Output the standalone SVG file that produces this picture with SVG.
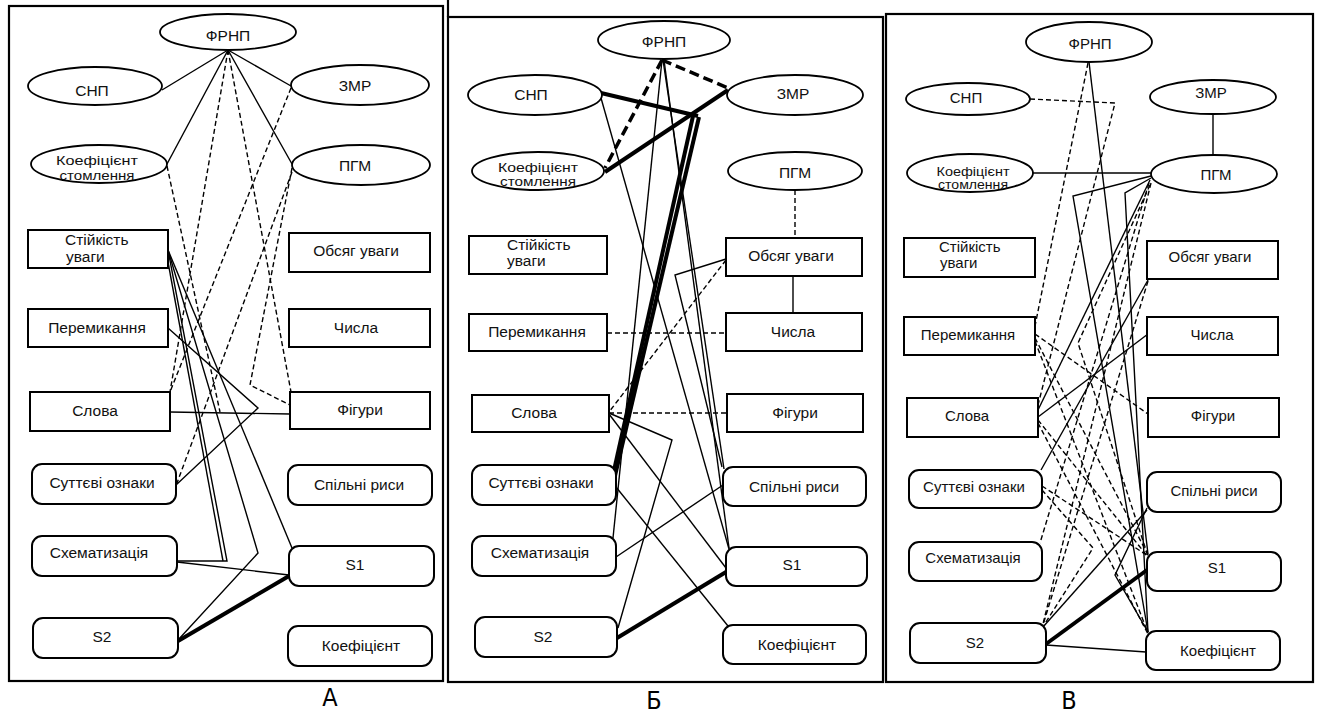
<svg xmlns="http://www.w3.org/2000/svg" width="1317" height="713" viewBox="0 0 1317 713">
<style>
.fr{fill:none;stroke:#000;stroke-width:2.2}
.e{fill:#fff;stroke:#000;stroke-width:1.8}
.b{fill:#fff;stroke:#000;stroke-width:2}
.s{fill:none;stroke:#000;stroke-width:1.4}
.d{fill:none;stroke:#000;stroke-width:1.4;stroke-dasharray:5 3}
.t{fill:none;stroke:#000;stroke-width:4}
.td{fill:none;stroke:#000;stroke-width:3.5;stroke-dasharray:10 5}
text{font-family:"Liberation Sans",Arial,sans-serif;font-size:15.5px;fill:#111;text-anchor:middle}
.sm{font-size:12px}
.lft{text-anchor:start}
.v{font-size:15px}
.lab{font-family:"DejaVu Sans Condensed","DejaVu Sans",sans-serif;font-stretch:condensed;font-size:25px;fill:#000}
</style>
<rect width="1317" height="713" fill="#fff"/>
<g id="frames">
<rect class="fr" x="9" y="6" width="434" height="675"/>
<rect class="fr" x="448" y="17" width="435" height="665"/>
<line class="fr" x1="448" y1="0" x2="448" y2="17"/>
<rect class="fr" x="886" y="14" width="427" height="668"/>
</g>
<g id="connectors">
<!-- Panel A -->
<path class="s" d="M228,50 L162,90"/>
<path class="s" d="M228,50 L167,164"/>
<path class="s" d="M228,50 L291,86"/>
<path class="s" d="M228,50 L292,164"/>
<path class="d" d="M167,166 L220,412"/>
<path class="d" d="M228,50 L170,392"/>
<path class="d" d="M291,88 L170,392"/>
<path class="d" d="M228,50 L291,392"/>
<path class="d" d="M292,168 L250,385 L290,405"/>
<path class="d" d="M292,172 L177,483"/>
<path class="s" d="M168,250 L227,561 L177,561"/>
<path class="s" d="M168,262 L223,561"/>
<path class="s" d="M168,250 L258,553 L178,640"/>
<path class="s" d="M168,250 L292,548"/>
<path class="s" d="M168,328 L258,408 L176,485"/>
<path class="s" d="M170,412 L290,414"/>
<path class="s" d="M177,562 L289,575"/>
<path class="t" d="M178,641 L289,576"/>
<!-- Panel B -->
<path class="td" d="M662,60 L605,168"/>
<path class="td" d="M662,60 L728,88"/>
<path class="t" d="M601,93 L698,116"/>
<path class="t" d="M728,90 L605,172"/>
<path class="t" d="M699,117 L614,480"/>
<path class="t" d="M693,116 L611,484"/>
<path class="t" d="M617,638 L726,572"/>
<path class="s" d="M601,98 L729,549"/>
<path class="s" d="M662,60 L613,538"/>
<path class="s" d="M663,60 L724,469"/>
<path class="s" d="M664,60 L729,548"/>
<path class="s" d="M726,259 L675,275 L722,467"/>
<path class="s" d="M609,413 L672,440 L618,628"/>
<path class="s" d="M609,414 L726,568"/>
<path class="s" d="M616,487 L728,626"/>
<path class="s" d="M616,557 L723,485"/>
<path class="s" d="M793,276 L793,313"/>
<path class="d" d="M607,333 L726,333"/>
<path class="d" d="M609,413 L727,413"/>
<path class="d" d="M726,260 L609,412"/>
<path class="d" d="M795,190 L795,238"/>
<!-- Panel V -->
<path class="s" d="M1151,173 L1033,173"/>
<path class="s" d="M1213,114 L1213,155"/>
<path class="s" d="M1089,62 L1148,554"/>
<path class="s" d="M1151,176 L1073,196 L1148,632"/>
<path class="s" d="M1151,178 L1125,193 L1148,632"/>
<path class="s" d="M1150,180 L1038,410"/>
<path class="s" d="M1148,280 L1041,470"/>
<path class="s" d="M1038,417 L1148,334"/>
<path class="s" d="M1046,645 L1146,652"/>
<path class="s" d="M1043,627 L1147,510"/>
<path class="s" d="M1147,508 L1115,575 L1148,632"/>
<path class="t" d="M1046,644 L1147,570"/>
<path class="d" d="M1088,63 L1035,326"/>
<path class="d" d="M1030,99 L1115,103 L1038,405"/>
<path class="d" d="M1035,334 L1148,414"/>
<path class="d" d="M1035,338 L1148,555"/>
<path class="d" d="M1035,341 L1148,633"/>
<path class="d" d="M1038,420 L1148,557"/>
<path class="d" d="M1038,423 L1148,634"/>
<path class="d" d="M1149,183 L1040,543"/>
<path class="d" d="M1150,185 L1078,343 L1148,556"/>
<path class="d" d="M1148,281 L1043,625"/>
<path class="d" d="M1151,183 L1043,624"/>
<path class="d" d="M1042,486 L1148,556"/>
<path class="d" d="M1042,490 L1093,548 L1044,625"/>
</g>
<!-- Panel A nodes -->
<g id="a-frnp"><ellipse class="e" cx="228" cy="32" rx="68" ry="18"/><text x="228" y="41">ФРНП</text></g>
<g id="a-snp"><ellipse class="e" cx="95" cy="86" rx="67" ry="19"/><text x="92" y="96">СНП</text></g>
<g id="a-zmr"><ellipse class="e" cx="360" cy="85" rx="69" ry="20"/><text x="355" y="91">ЗМР</text></g>
<g id="a-koef-st"><ellipse class="e" cx="99" cy="164" rx="68" ry="19"/><text class="sm" x="97" y="165" textLength="82" lengthAdjust="spacingAndGlyphs">Коефіцієнт</text><text class="sm" x="97" y="180" textLength="75" lengthAdjust="spacingAndGlyphs">стомлення</text></g>
<g id="a-pgm"><ellipse class="e" cx="361" cy="165" rx="69" ry="20"/><text x="355" y="171">ПГМ</text></g>
<g id="a-stiik"><rect class="b" x="28" y="230" width="140" height="38"/><text class="lft" x="65" y="245">Стійкість</text><text class="lft" x="66" y="262">уваги</text></g>
<g id="a-obsiag"><rect class="b" x="289" y="233" width="141" height="39"/><text x="356" y="256">Обсяг уваги</text></g>
<g id="a-peremyk"><rect class="b" x="28" y="309" width="140" height="38"/><text x="97" y="333">Перемикання</text></g>
<g id="a-chysla"><rect class="b" x="289" y="309" width="141" height="38"/><text x="356" y="333">Числа</text></g>
<g id="a-slova"><rect class="b" x="30" y="392" width="140" height="39"/><text x="95" y="416">Слова</text></g>
<g id="a-fihury"><rect class="b" x="290" y="392" width="140" height="37"/><text x="360" y="415">Фігури</text></g>
<g id="a-sutt"><rect class="b" x="32" y="464" width="144" height="40" rx="10"/><text x="102" y="488">Суттєві ознаки</text></g>
<g id="a-spiln"><rect class="b" x="288" y="465" width="144" height="40" rx="10"/><text x="359" y="490">Спільні риси</text></g>
<g id="a-skhem"><rect class="b" x="32" y="536" width="145" height="40" rx="10"/><text x="99" y="558">Схематизація</text></g>
<g id="a-s1"><rect class="b" x="289" y="546" width="145" height="40" rx="10"/><text x="355" y="570">S1</text></g>
<g id="a-s2"><rect class="b" x="33" y="618" width="145" height="40" rx="10"/><text x="102" y="642">S2</text></g>
<g id="a-koef"><rect class="b" x="288" y="626" width="144" height="40" rx="10"/><text x="361" y="651">Коефіцієнт</text></g>
<!-- Panel B nodes -->
<g id="b-frnp"><ellipse class="e" cx="664" cy="40" rx="66" ry="19"/><text x="664" y="47">ФРНП</text></g>
<g id="b-snp"><ellipse class="e" cx="535" cy="95" rx="67" ry="20"/><text x="531" y="100">СНП</text></g>
<g id="b-zmr"><ellipse class="e" cx="795" cy="95" rx="68" ry="20"/><text x="793" y="99">ЗМР</text></g>
<g id="b-koef-st"><ellipse class="e" cx="538" cy="171" rx="66" ry="19"/><text class="sm" x="538" y="172" textLength="80" lengthAdjust="spacingAndGlyphs">Коефіцієнт</text><text class="sm" x="538" y="186" textLength="76" lengthAdjust="spacingAndGlyphs">стомлення</text></g>
<g id="b-pgm"><ellipse class="e" cx="795" cy="171" rx="67" ry="19"/><text x="795" y="178">ПГМ</text></g>
<g id="b-stiik"><rect class="b" x="469" y="236" width="138" height="38"/><text class="lft" x="507" y="250">Стійкість</text><text class="lft" x="507" y="266">уваги</text></g>
<g id="b-obsiag"><rect class="b" x="726" y="238" width="136" height="38"/><text x="791" y="261">Обсяг уваги</text></g>
<g id="b-peremyk"><rect class="b" x="469" y="314" width="138" height="37"/><text x="537" y="337">Перемикання</text></g>
<g id="b-chysla"><rect class="b" x="726" y="313" width="136" height="38"/><text x="793" y="337">Числа</text></g>
<g id="b-slova"><rect class="b" x="472" y="395" width="137" height="37"/><text x="534" y="418">Слова</text></g>
<g id="b-fihury"><rect class="b" x="727" y="394" width="136" height="38"/><text x="795" y="418">Фігури</text></g>
<g id="b-sutt"><rect class="b" x="472" y="465" width="144" height="40" rx="10"/><text x="541" y="488">Суттєві ознаки</text></g>
<g id="b-spiln"><rect class="b" x="723" y="467" width="143" height="39" rx="10"/><text x="794" y="492">Спільні риси</text></g>
<g id="b-skhem"><rect class="b" x="472" y="536" width="144" height="40" rx="10"/><text x="540" y="558">Схематизація</text></g>
<g id="b-s1"><rect class="b" x="726" y="547" width="141" height="39" rx="10"/><text x="792" y="570">S1</text></g>
<g id="b-s2"><rect class="b" x="475" y="617" width="142" height="40" rx="10"/><text x="543" y="642">S2</text></g>
<g id="b-koef"><rect class="b" x="723" y="625" width="143" height="39" rx="10"/><text x="797" y="650">Коефіцієнт</text></g>
<!-- Panel V nodes -->
<g id="v-frnp"><ellipse class="e" cx="1089" cy="42" rx="63" ry="20"/><text class="v" x="1090" y="49">ФРНП</text></g>
<g id="v-snp"><ellipse class="e" cx="968" cy="99" rx="62" ry="16"/><text class="v" x="966" y="103">СНП</text></g>
<g id="v-zmr"><ellipse class="e" cx="1213" cy="97" rx="63" ry="17"/><text class="v" x="1211" y="98">ЗМР</text></g>
<g id="v-koef-st"><ellipse class="e" cx="970" cy="173" rx="63" ry="19"/><text class="sm" x="973" y="176" textLength="73" lengthAdjust="spacingAndGlyphs">Коефіцієнт</text><text class="sm" x="973" y="189" textLength="70" lengthAdjust="spacingAndGlyphs">стомлення</text></g>
<g id="v-pgm"><ellipse class="e" cx="1214" cy="174" rx="63" ry="19"/><text class="v" x="1216" y="180">ПГМ</text></g>
<g id="v-stiik"><rect class="b" x="904" y="238" width="131" height="39"/><text class="v lft" x="939" y="252">Стійкість</text><text class="v lft" x="940" y="268">уваги</text></g>
<g id="v-obsiag"><rect class="b" x="1147" y="241" width="131" height="38"/><text class="v" x="1210" y="262">Обсяг уваги</text></g>
<g id="v-peremyk"><rect class="b" x="904" y="317" width="131" height="38"/><text class="v" x="968" y="340">Перемикання</text></g>
<g id="v-chysla"><rect class="b" x="1147" y="317" width="131" height="38"/><text class="v" x="1212" y="340">Числа</text></g>
<g id="v-slova"><rect class="b" x="907" y="398" width="131" height="39"/><text class="v" x="967" y="421">Слова</text></g>
<g id="v-fihury"><rect class="b" x="1148" y="398" width="131" height="39"/><text class="v" x="1213" y="421">Фігури</text></g>
<g id="v-sutt"><rect class="b" x="909" y="470" width="133" height="38" rx="10"/><text class="v" x="974" y="492">Суттєві ознаки</text></g>
<g id="v-spiln"><rect class="b" x="1147" y="472" width="134" height="40" rx="10"/><text class="v" x="1214" y="496">Спільні риси</text></g>
<g id="v-skhem"><rect class="b" x="909" y="542" width="133" height="39" rx="10"/><text class="v" x="973" y="563">Схематизація</text></g>
<g id="v-s1"><rect class="b" x="1147" y="552" width="134" height="39" rx="10"/><text class="v" x="1217" y="573">S1</text></g>
<g id="v-s2"><rect class="b" x="910" y="623" width="136" height="40" rx="10"/><text class="v" x="975" y="648">S2</text></g>
<g id="v-koef"><rect class="b" x="1146" y="631" width="134" height="39" rx="10"/><text class="v" x="1218" y="656">Коефіцієнт</text></g>
<g id="labels">
<text class="lab" x="330" y="706">А</text>
<text class="lab" x="654" y="709">Б</text>
<text class="lab" x="1069" y="709">В</text>
</g>
</svg>
